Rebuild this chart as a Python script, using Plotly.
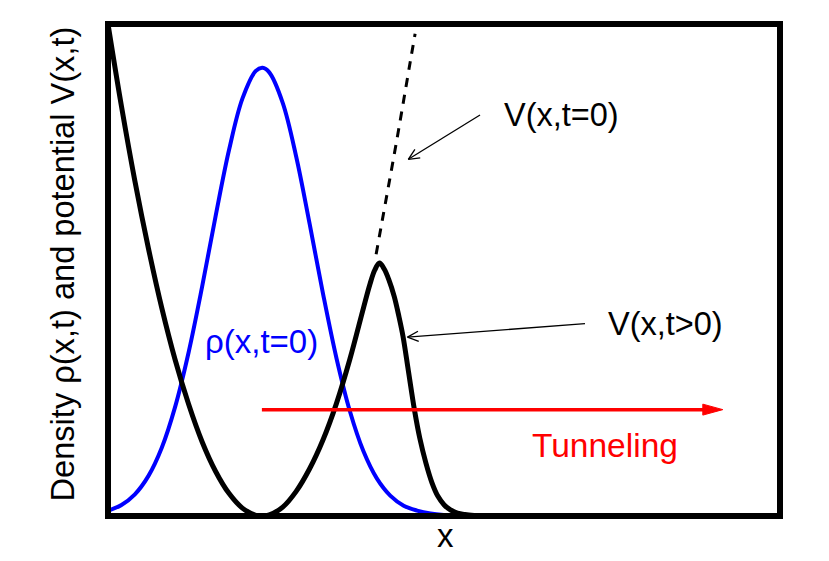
import math
import plotly.graph_objects as go

# ---- data (arbitrary units, x 0..10, y 0..10) ----
x_rho = [0.0, 0.2, 0.4, 0.6, 0.8, 1.0, 1.2, 1.4, 1.6, 1.8, 2.0, 2.2, 2.3, 2.4, 2.6,
         2.8, 3.0, 3.2, 3.4, 3.6, 3.8, 4.0, 4.2, 4.4, 4.6, 4.8, 5.0, 5.2, 5.4, 5.6, 10.0]
rho_t0 = [0.107, 0.225, 0.441, 0.81, 1.388, 2.224, 3.329, 4.655, 6.086, 7.433, 8.483,
          9.048, 9.11, 9.017, 8.397, 7.308, 5.942, 4.516, 3.207, 2.128, 1.319, 0.764,
          0.414, 0.209, 0.11, 0.05, 0.02, 0.007, 0.002, 0.0, 0.0]

x_v = [0.0, 0.2, 0.4, 0.6, 0.8, 1.0, 1.2, 1.4, 1.6, 1.8, 2.0, 2.2, 2.29, 2.4, 2.6, 2.8,
       3.0, 3.2, 3.4, 3.6, 3.8, 3.9, 3.97, 4.04, 4.11, 4.18, 4.26, 4.33, 4.39, 4.47,
       4.56, 4.64, 4.73, 4.82, 4.91, 5.0, 5.09, 5.2, 5.31, 5.45, 5.6, 10.0]
v_t_pos = [10.0, 8.33, 6.81, 5.45, 4.23, 3.17, 2.27, 1.51, 0.91, 0.46, 0.16, 0.015, 0.0,
           0.023, 0.18, 0.50, 0.96, 1.55, 2.29, 3.19, 4.22, 4.72, 5.00, 5.14, 5.02, 4.80,
           4.46, 4.05, 3.65, 2.95, 2.16, 1.58, 1.08, 0.68, 0.40, 0.23, 0.13, 0.06, 0.03,
           0.01, 0.0, 0.0]

x_v0 = [3.99, 4.1, 4.2, 4.3, 4.4, 4.5, 4.57]
v_t0 = [5.32, 6.15, 6.90, 7.66, 8.45, 9.25, 9.80]

# ---- layout geometry (page is drawn with an 8px body offset) ----
OFF = 8
W, H = 821, 553
PL, PR, PT, PB = 111, 777, 27, 513.5          # plot area edges in window pixels
ML, MT = PL - OFF, PT - OFF
MR, MB = W - (PR - OFF), H - (PB - OFF)
# data mapping: x = (px - 108) / 67.2 ; y = (516.5 - py) / 49.25
XR = [(PL - 108) / 67.2, (PR - 108) / 67.2]
YR = [(516.5 - PB) / 49.25, (516.5 - PT) / 49.25]
sx = (PR - PL) / (XR[1] - XR[0])   # px per x unit
sy = (PB - PT) / (YR[1] - YR[0])   # px per y unit

FONT = "Liberation Sans, Arial, Helvetica, sans-serif"

fig = go.Figure()
fig.add_trace(go.Scatter(x=x_rho, y=rho_t0, mode="lines",
                         line=dict(color="#0000ff", width=4, shape="spline", smoothing=1.0),
                         hoverinfo="skip"))
fig.add_trace(go.Scatter(x=x_v, y=v_t_pos, mode="lines",
                         line=dict(color="black", width=5, shape="spline", smoothing=1.0),
                         hoverinfo="skip"))
fig.add_trace(go.Scatter(x=x_v0, y=v_t0, mode="lines",
                         line=dict(color="black", width=3, dash="9px,8px", shape="spline"),
                         hoverinfo="skip"))

shapes = []


def open_arrow(x0, y0, x1, y1, length=12, ang=25):
    """thin black arrow from (x0,y0) to tip (x1,y1) with an open head"""
    shapes.append(dict(type="line", x0=x0, y0=y0, x1=x1, y1=y1,
                       line=dict(color="black", width=1.3)))
    dxp = (x0 - x1) * sx
    dyp = (y0 - y1) * sy
    n = math.hypot(dxp, dyp)
    ux, uy = dxp / n, dyp / n
    for s in (1, -1):
        a = math.radians(ang * s)
        bx = ux * math.cos(a) - uy * math.sin(a)
        by = ux * math.sin(a) + uy * math.cos(a)
        shapes.append(dict(type="line", x0=x1, y0=y1,
                           x1=x1 + bx * length / sx, y1=y1 + by * length / sy,
                           line=dict(color="black", width=1.3)))


open_arrow(5.536, 8.15, 4.469, 7.25)
open_arrow(7.098, 3.91, 4.457, 3.635)

# red tunneling arrow
ry = 2.162
rx0, rx1 = 2.29, 9.149
head_len, head_half = 20 / sx, 5.5 / sy
shapes.append(dict(type="line", x0=rx0, y0=ry, x1=rx1 - head_len + 0.02, y1=ry,
                   line=dict(color="#ff0000", width=3.5)))
shapes.append(dict(type="path",
                   path=f"M{rx1},{ry} L{rx1 - head_len},{ry + head_half} "
                        f"L{rx1 - head_len},{ry - head_half} Z",
                   fillcolor="#ff0000", line=dict(color="#ff0000", width=1)))


def dx(px):
    return (px - 108) / 67.2


def dy(py):
    return (516.5 - py) / 49.25


def paper_x(px):
    return (px - PL) / (PR - PL)


def paper_y(py):
    return (PB - py) / (PB - PT)


annotations = [
    dict(text="V(x,t=0)", x=dx(561), y=dy(115.5), xref="x", yref="y",
         font=dict(size=32.5, color="black")),
    dict(text="V(x,t&gt;0)", x=dx(665), y=dy(324), xref="x", yref="y",
         font=dict(size=32.5, color="black")),
    dict(text="ρ(x,t=0)", x=dx(261.5), y=dy(342), xref="x", yref="y",
         font=dict(size=33, color="#0000ff")),
    dict(text="Tunneling", x=dx(605), y=dy(445.5), xref="x", yref="y",
         font=dict(size=33.5, color="#ff0000")),
    dict(text="x", x=paper_x(445), y=paper_y(535.8), xref="paper", yref="paper",
         font=dict(size=33, color="black")),
    dict(text="Density ρ(x,t) and potential V(x,t)", x=paper_x(62), y=paper_y(264.7),
         xref="paper", yref="paper", textangle=-90, font=dict(size=32.6, color="black")),
]
for a in annotations:
    a.update(showarrow=False, xanchor="center", yanchor="middle")
    a["font"]["family"] = FONT

axis_common = dict(showgrid=False, zeroline=False, showticklabels=False, ticks="",
                   showline=True, mirror=True, linecolor="black", linewidth=6,
                   fixedrange=True)
fig.update_layout(
    width=W, height=H,
    margin=dict(l=ML, r=MR, t=MT, b=MB, autoexpand=False),
    paper_bgcolor="white", plot_bgcolor="white",
    showlegend=False,
    xaxis=dict(range=XR, **axis_common),
    yaxis=dict(range=YR, **axis_common),
    shapes=shapes,
    annotations=annotations,
    font=dict(family=FONT),
)
fig.write_html("out.html")
